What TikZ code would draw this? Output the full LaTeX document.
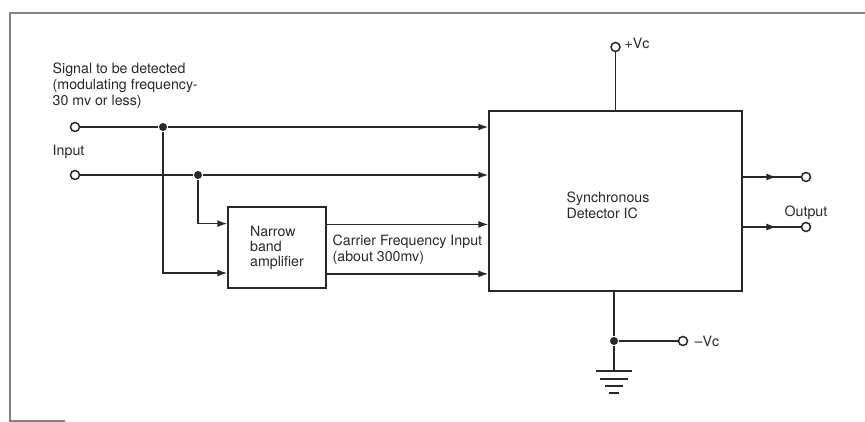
\documentclass[tikz,border=0pt]{standalone}
\usepackage{fontspec}
\setmainfont{TeX Gyre Heros}
\usetikzlibrary{positioning}
\usetikzlibrary{calc}
\usetikzlibrary{arrows.meta}
\usetikzlibrary{decorations.markings}
\definecolor{ink}{RGB}{40, 40, 40}
\definecolor{frame}{RGB}{130, 130, 130}
\newcommand{\txt}{\fontsize{14.2}{16}\selectfont}

\begin{document}
\begin{tikzpicture}[
  x=1pt, y=-1pt,
  font=\txt, line width=1.4pt, draw=ink,
  box/.style={draw=ink, line width=1.4pt, fill=white, inner sep=0pt},
  lab/.style={text=ink, inner sep=0pt, align=left},
  term/.style={circle, draw=ink, fill=white, line width=1.5pt, minimum size=9pt, inner sep=0pt},
  dot/.style={circle, fill=ink, minimum size=8pt, inner sep=0pt},
  ar/.style={-{Latex[length=10pt, width=7pt]}, draw=ink},
  midar/.style={draw=ink, postaction={decorate}, decoration={markings,
    mark=at position 0.58 with {\arrow{Latex[length=10pt, width=7pt]}}}}
]
\useasboundingbox (0,0) rectangle (865,422);
% frame of the figure
\draw[frame, line width=1.5pt] (865,13) -- (10,13) -- (10,421) -- (65,421);
% blocks
\node[box, minimum width=253, minimum height=180] (ic) at (615.5,201) {};
\node[lab] (ictext) at (608,205) {Synchronous\\Detector IC};
\node[box, minimum width=98, minimum height=81, align=left, text=ink] (amp) at (277,247.5)
  {Narrow\\[-1pt]band\\[-1pt]amplifier};
% inputs
\node[term] (sig) at (75,127) {};
\node[term] (inp) at (75,175) {};
\node[dot] (j1) at (163,127) {};
\node[dot] (j2) at (198,175) {};
\node[lab, anchor=north west] (siglab) at (52,62)
  {Signal to be detected\\(modulating frequency-\\30 mv or less)};
\node[lab, anchor=north west] (inplab) at (52,144) {Input};
\draw (sig) -- (j1); \draw[ar] (j1) -- (j1 -| ic.west);
\draw (inp) -- (j2); \draw[ar] (j2) -- (j2 -| ic.west);
\coordinate (a1) at ($(amp.north west)!0.21!(amp.south west)$);
\coordinate (a2) at ($(amp.north west)!0.81!(amp.south west)$);
\coordinate (b1) at ($(amp.north east)!0.22!(amp.south east)$);
\coordinate (b2) at ($(amp.north east)!0.82!(amp.south east)$);
\draw[ar] (j2) |- (a1);
\draw[ar] (j1) |- (a2);
\draw[ar] (b1) -- (b1 -| ic.west);
\draw[ar] (b2) -- (b2 -| ic.west);
\node[lab, anchor=north west] (carlab) at (332,234) {Carrier Frequency Input\\(about 300mv)};
% supply
\node[term] (vp) at (615.5,47) {};
\node[lab, anchor=west] (vplab) at (624,43) {+Vc};
\draw (vp) -- (vp |- ic.north);
\node[dot] (j3) at (614,341) {};
\node[term] (vm) at (683,341) {};
\node[lab, anchor=west] (vmlab) at (694,341) {–Vc};
\draw (j3 |- ic.south) -- (j3);
\draw (j3) -- (vm);
\coordinate (gnd) at (614,371);
\draw (j3) -- (gnd);
\draw (gnd) ++(-18,0) -- ++(36,0);
\draw ($(gnd)+(-14,8)$) -- ++(28,0);
\draw ($(gnd)+(-9,15)$) -- ++(18,0);
\draw ($(gnd)+(-5,22)$) -- ++(10,0);
% outputs
\node[term] (o1) at (806,177) {};
\node[term] (o2) at (806,227) {};
\node[lab] (outlab) at (806,213) {Output};
\draw[midar] (o1 -| ic.east) -- (o1);
\draw[midar] (o2 -| ic.east) -- (o2);
\end{tikzpicture}
\end{document}
